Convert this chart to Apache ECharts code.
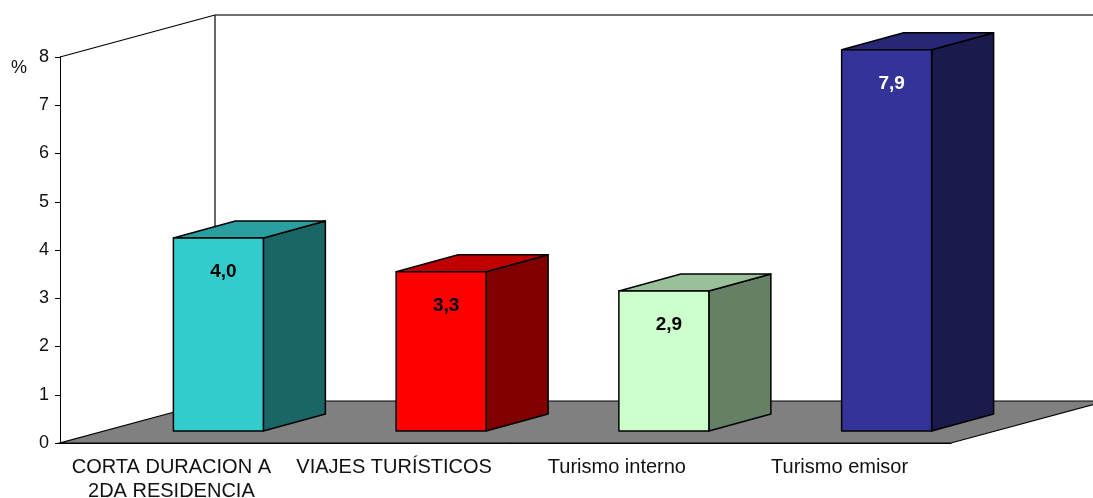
<!DOCTYPE html>
<html>
<head>
<meta charset="utf-8">
<script src="https://cdn.jsdelivr.net/npm/echarts@6/dist/echarts.min.js"></script>
<style>
  html, body { margin: 0; padding: 0; background: #fff; }
  #main { width: 1093px; height: 498px; }
</style>
</head>
<body>
<div id="main"></div>
<script>
const categories = ['CORTA DURACION A\n2DA RESIDENCIA', 'VIAJES TURÍSTICOS', 'Turismo interno', 'Turismo emisor']
const values = [4.0, 3.3, 2.9, 7.9]
const yTicks = [0, 1, 2, 3, 4, 5, 6, 7, 8]

// face colours: front / top / side
const frontColors = ['#33cccc', '#ff0000', '#ccffcc', '#333399']
const topColors = ['#299f9f', '#c00000', '#99c199', '#272775']
const sideColors = ['#1a6666', '#800000', '#668066', '#1a1a4d']
const labelColors = ['#000', '#000', '#000', '#fff']

const FONT = '"Liberation Sans", Arial, sans-serif'
// projection of the 3d box (px)
const DEPTH = [155, -42]
const BAR_SHIFT = [47, -12]
const BAR_DEPTH = [62, -17]

const chart = echarts.init(document.getElementById('main'))

const fmt = v => v.toFixed(1).replace('.', ',')

const option = {
    animation: false,
    backgroundColor: '#fff',
    grid: { left: 60, right: 142, top: 57, bottom: 55, outerBoundsMode: 'none', containLabel: false },
    xAxis: {
        type: 'category',
        data: categories,
        axisLine: { lineStyle: { color: '#000', width: 1 } },
        axisTick: { length: 7, lineStyle: { color: '#000' } },
        axisLabel: {
            color: '#111',
            fontFamily: FONT,
            fontSize: 20,
            lineHeight: 24,
            margin: 12,
            interval: 0
        }
    },
    yAxis: {
        type: 'value',
        min: yTicks[0],
        max: yTicks[yTicks.length - 1],
        interval: 1,
        splitLine: { show: false },
        axisLine: { show: true, lineStyle: { color: '#000', width: 1 } },
        axisTick: { show: true, length: 5, lineStyle: { color: '#000' } },
        axisLabel: { color: '#111', fontFamily: FONT, fontSize: 18, margin: 11 }
    },
    graphic: [{
        type: 'text',
        left: 11,
        top: 59,
        style: { text: '%', fill: '#111', font: '18px ' + FONT }
    }],
    series: [
        {
            // walls + floor
            type: 'custom',
            z: 1,
            silent: true,
            data: [[0, 0]],
            renderItem: function (params, api) {
                const cs = params.coordSys
                const l = cs.x, r = cs.x + cs.width, t = cs.y, b = cs.y + cs.height
                const line = { stroke: '#000', lineWidth: 1.2 }
                return {
                    type: 'group',
                    children: [
                        { type: 'line', shape: { x1: l, y1: t, x2: l + DEPTH[0], y2: t + DEPTH[1] }, style: line },
                        { type: 'line', shape: { x1: l + DEPTH[0], y1: t + DEPTH[1], x2: l + DEPTH[0], y2: b + DEPTH[1] }, style: line },
                        { type: 'line', shape: { x1: l + DEPTH[0], y1: t + DEPTH[1], x2: r + DEPTH[0], y2: t + DEPTH[1] }, style: { stroke: '#404040', lineWidth: 1.5 } },
                        {
                            type: 'polygon',
                            shape: { points: [[l, b], [r, b], [r + DEPTH[0], b + DEPTH[1]], [l + DEPTH[0], b + DEPTH[1]]] },
                            style: { fill: '#808080', stroke: '#000', lineWidth: 1.2 }
                        }
                    ]
                }
            }
        },
        {
            type: 'custom',
            z: 3,
            data: values.map((v, i) => [i, v]),
            renderItem: function (params, api) {
                const i = api.value(0)
                const v = api.value(1)
                const base = api.coord([i, 0])
                const top = api.coord([i, v])
                const w = api.size([1, 0])[0] * 0.404
                const x0 = base[0] - w / 2 + BAR_SHIFT[0]
                const x1 = x0 + w
                const yb = base[1] + BAR_SHIFT[1]
                const yt = top[1] + BAR_SHIFT[1]
                const dx = BAR_DEPTH[0], dy = BAR_DEPTH[1]
                const edge = { stroke: '#000', lineWidth: 1.5, lineJoin: 'round' }
                return {
                    type: 'group',
                    children: [
                        {
                            type: 'polygon',
                            shape: { points: [[x1, yt], [x1 + dx, yt + dy], [x1 + dx, yb + dy], [x1, yb]] },
                            style: Object.assign({ fill: sideColors[i] }, edge)
                        },
                        {
                            type: 'polygon',
                            shape: { points: [[x0, yt], [x0 + dx, yt + dy], [x1 + dx, yt + dy], [x1, yt]] },
                            style: Object.assign({ fill: topColors[i] }, edge)
                        },
                        {
                            type: 'rect',
                            shape: { x: x0, y: yt, width: w, height: yb - yt },
                            style: Object.assign({ fill: frontColors[i] }, edge)
                        },
                        {
                            type: 'text',
                            x: (x0 + x1) / 2 + 5,
                            y: yt + 34,
                            style: {
                                text: fmt(v),
                                fill: labelColors[i],
                                font: 'bold 19px ' + FONT,
                                align: 'center',
                                verticalAlign: 'middle'
                            }
                        }
                    ]
                }
            }
        }
    ]
}

chart.setOption(option)
</script>
</body>
</html>
